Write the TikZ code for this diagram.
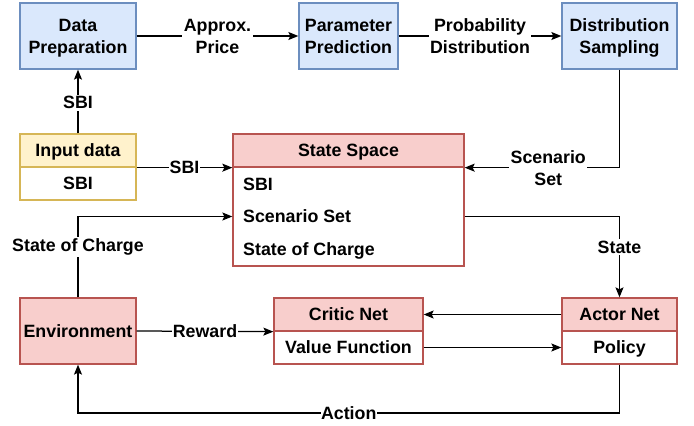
\documentclass[tikz,border=0pt]{standalone}
\usepackage{fontspec}
\setmainfont{Liberation Sans}
\usetikzlibrary{arrows.meta}
\definecolor{bluefill}{HTML}{DAE8FC}
\definecolor{blueline}{HTML}{6C8EBF}
\definecolor{yellowfill}{HTML}{FFF2CC}
\definecolor{yellowline}{HTML}{D6B656}
\definecolor{redfill}{HTML}{F8CECC}
\definecolor{redline}{HTML}{B85450}
\tikzset{
  txt/.style={font=\fontsize{17.8}{22}\selectfont\bfseries},
  base/.style={rectangle, line width=1.3pt, inner sep=0pt, align=center, text depth=0pt, txt},
  bluebox/.style={base, draw=blueline, fill=bluefill},
  yellowhead/.style={base, draw=yellowline, fill=yellowfill},
  yellowbody/.style={base, draw=yellowline, fill=white},
  redbox/.style={base, draw=redline, fill=redfill},
  redbody/.style={base, draw=redline, fill=white},
  rowtext/.style={anchor=west, inner sep=0pt, text depth=0pt, txt},
  arr/.style={line width=1.25pt, -{Stealth[length=10pt,width=8pt,inset=2pt]}},
  lbl/.style={fill=white, inner sep=1.5pt, align=center, txt}
}
\begin{document}
\begin{tikzpicture}[x=1pt,y=-1pt]
\useasboundingbox[fill=white] (0,0) rectangle (694,426);

% top pipeline
\node[bluebox, minimum width=116pt, minimum height=66pt] (dp) at (78,36) {Data\\Preparation};
\node[bluebox, minimum width=99pt, minimum height=66pt] (pp) at (348.5,36) {Parameter\\Prediction};
\node[bluebox, minimum width=115pt, minimum height=66pt] (ds) at (619.5,36) {Distribution\\Sampling};

% input data table
\node[yellowhead, minimum width=116pt, minimum height=33pt] (inh) at (78,150.5) {Input data};
\node[yellowbody, minimum width=116pt, minimum height=33pt] (inb) at (78,183.5) {SBI};

% state space table
\node[redbox, minimum width=231pt, minimum height=33pt] (ssh) at (348.5,150.5) {State Space};
\node[redbody, minimum width=231pt, minimum height=99pt] (ssb) at (348.5,216.5) {};
\node[rowtext] (r1) at (243,184) {SBI};
\node[rowtext] (r2) at (243,216) {Scenario Set};
\node[rowtext] (r3) at (243,249) {State of Charge};

% reinforcement learning loop
\node[redbox, minimum width=116pt, minimum height=66pt] (env) at (78,331) {Environment};
\node[redbox, minimum width=149pt, minimum height=33pt] (crh) at (348.5,314.5) {Critic Net};
\node[redbody, minimum width=149pt, minimum height=33pt] (crb) at (348.5,347.5) {Value Function};
\node[redbox, minimum width=115pt, minimum height=33pt] (ach) at (619.5,314.5) {Actor Net};
\node[redbody, minimum width=115pt, minimum height=33pt] (acb) at (619.5,347.5) {Policy};
\coordinate (abot) at (619.5,413);

% connectors
\draw[arr] (dp.east) -- node[lbl] {Approx.\\Price} (pp.west);
\draw[arr] (pp.east) -- node[lbl] {Probability\\Distribution} (ds.west);
\draw[arr] (inh.north) -- node[lbl, pos=0.48] {SBI} (dp.south);
\draw[arr] (inh.south east) -- node[lbl, inner sep=0.5pt] {SBI} (ssh.south west);
\draw[arr] (ds.south) |- node[lbl, pos=0.73] {Scenario\\Set} (ssh.south east);
\draw[arr] (env.north) |- node[lbl, pos=0.31] {State of Charge} (ssb.west);
\draw[arr] (ssb.east) -| node[lbl, pos=0.69] {State} (ach.north);
\draw[arr] (env.east) -- node[lbl, inner sep=0.5pt] {Reward} (crh.south west);
\draw[arr] (ach.west) -- (crh.east);
\draw[arr] (crb.east) -- (acb.west);
\draw[arr] (acb.south) -- (abot) -| node[lbl, pos=0.25, inner sep=0.5pt] {Action} (env.south);
\end{tikzpicture}
\end{document}
